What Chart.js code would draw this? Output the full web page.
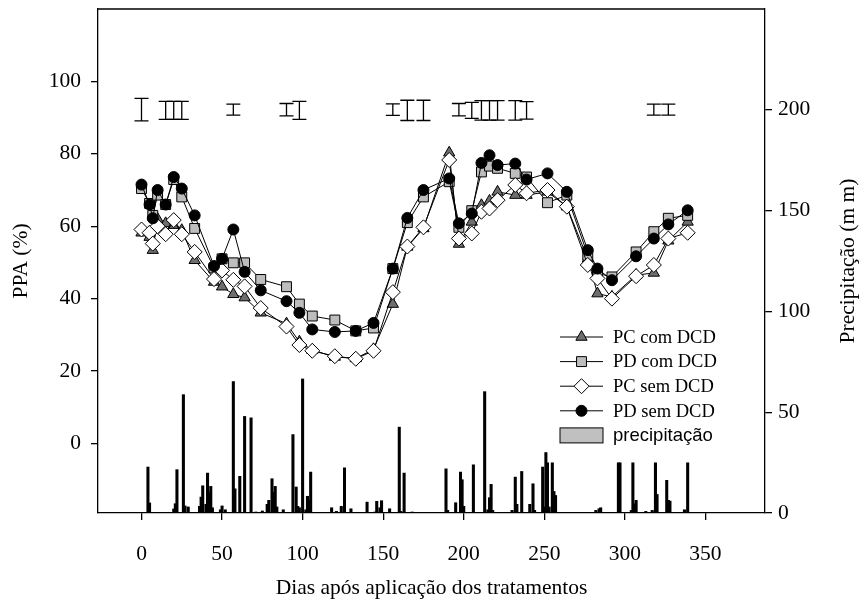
<!DOCTYPE html>
<html>
<head>
<meta charset="utf-8">
<script src="https://cdn.jsdelivr.net/npm/chart.js@4.4.0/dist/chart.umd.min.js"></script>
<style>
  html, body { margin: 0; padding: 0; background: #fff; }
</style>
</head>
<body>
<canvas id="grafico-ppa" width="861" height="600"></canvas>
<script>
// Dias de coleta (após aplicação dos tratamentos)
const diasAmostra = [0, 5, 7, 10, 15, 20, 25, 33, 45, 50, 57, 64, 74, 90, 98, 106, 120, 133, 144,
  156, 165, 175, 191, 197, 205, 211, 216, 221, 232, 239, 252, 264, 277, 283, 292, 307, 318, 327, 339];

// PPA (%) por tratamento
const pcComDCD = [58.2, 57, 53.4, 62, 60.8, 60.3, 58.9, 50.6, 44.6, 43.3, 41.2, 40.3, 36.1, 33.1, 28.1, 25.8, 23.9, 23.5, 26,
  38.5, 54.3, 59.4, 80.3, 55.1, 61.2, 65.8, 67, 69.5, 68.6, 68.6, 69.5, 65.4, 51, 41.4, 40.5, 46.5, 47.1, 56, 61.2];
const pdComDCD = [70.4, 66.3, 63, 68.6, 66, 72.9, 68.1, 59.4, 48.5, 51, 49.9, 49.9, 45.3, 43.3, 38.5, 35.2, 34.1, 31.1, 31.9,
  48.3, 61, 68.1, 72.3, 59.7, 64.3, 75, 76.6, 76, 74.6, 73.6, 66.5, 68.6, 52, 47, 46, 52.9, 58.5, 62.2, 63];
const pcSemDCD = [59.1, 58.2, 55.2, 60, 57.8, 61.7, 57.8, 52.9, 45.4, 47.8, 45.2, 43.4, 37.4, 32.3, 27.2, 25.6, 24.1, 23.4, 25.6,
  41.8, 54.4, 59.7, 78.3, 56.6, 58, 64, 64.9, 67.2, 71.4, 69.1, 70, 65.4, 49.3, 45.6, 40, 46.2, 49.3, 56.6, 58.2];
const pdSemDCD = [71.5, 66, 62.2, 70, 66, 73.6, 70.4, 63, 49, 51, 59.1, 47.4, 42.3, 39.3, 36.1, 31.5, 30.8, 31.1, 33.3,
  48.3, 62.3, 70, 73.2, 60.8, 63.5, 77.5, 79.6, 76.9, 77.3, 72.9, 74.6, 69.5, 53.4, 48.3, 45.1, 51.7, 56.6, 60.5, 64.4];

// Precipitação diária (mm)
const diasChuva = [4, 5, 20, 21, 22, 26, 27, 29, 36, 37, 38, 40, 41, 42, 43, 44, 49, 50, 52, 57, 58, 61, 64, 68, 71, 75,
  78, 79, 81, 82, 83, 84, 88, 94, 96, 97, 98, 100, 102, 103, 104, 105, 118, 121, 124, 126, 130, 140, 145, 146, 148, 149,
  154, 160, 161, 163, 168, 189, 190, 195, 198, 199, 200, 206, 213, 215, 216, 217, 218, 230, 232, 233, 236, 241, 243, 244,
  249, 250, 251, 252, 253, 255, 256, 257, 282, 284, 285, 296, 297, 304, 305, 306, 307, 313, 317, 319, 320, 326, 327, 328,
  337, 339];
const chuvaMm = [22.8, 5, 2, 4.6, 21.5, 58.7, 3.5, 3, 3.3, 7.9, 13.5, 4.3, 19.8, 10.4, 13.2, 2.6, 1.6, 3.5, 1.6, 65.2, 12, 18.2, 47.9, 47.2, 0.5, 1,
  4.3, 6.3, 17, 10.4, 13.2, 3, 1.6, 38.9, 12.9, 3.3, 2.6, 66.5, 1.6, 8.3, 6.3, 20.3, 2.6, 0.8, 3.3, 22.4, 2.1, 5.4, 0.5, 5.8, 2.6, 6.1,
  2.1, 42.6, 0.8, 19.8, 0.5, 21.9, 1.3, 5.1, 20.3, 16.5, 3.3, 23.9, 60.2, 1.6, 7.6, 14.2, 1.3, 1.3, 17.8, 4.3, 20.6, 4.3, 14.5, 1.3,
  22.8, 3, 30, 24.9, 3, 24.9, 10.7, 8.7, 1.3, 2.1, 2.6, 24.9, 24.9, 1.3, 24.9, 4.6, 6.3, 0.8, 1.3, 24.9, 9.2, 16.2, 6.3, 5.9,
  1.6, 24.9];

// Barras de DMS (centro e meia amplitude, em PPA %)
const diasDMS = [0, 15, 20, 25, 57, 90, 98, 156, 165, 175, 197, 205, 211, 216, 221, 232, 239, 318, 327];
const centroDMS = [92.2, 92, 92, 92, 92.2, 92.2, 92, 92.2, 92, 92, 92.2, 92, 92, 92, 92, 92, 92, 92.2, 92.2];
const meiaDMS = [3.1, 2.5, 2.5, 2.5, 1.5, 1.7, 2.5, 1.6, 2.8, 2.8, 1.7, 2.2, 2.7, 2.7, 2.7, 2.7, 2.4, 1.5, 1.5];

const ticksDias = [0, 50, 100, 150, 200, 250, 300, 350];
const ticksPPA = [0, 20, 40, 60, 80, 100];
const ticksChuva = [0, 50, 100, 150, 200];

const SERIF = '"Liberation Serif", "Times New Roman", serif';
const fonteTick = { family: SERIF, size: 21.5 };
const fonteTitulo = { family: SERIF, size: 21.5 };

const pontos = ys => diasAmostra.map((d, i) => ({ x: d, y: ys[i] }));

function serie(label, ys, estilo, raio, cor, ordem) {
  return {
    type: 'line', label, data: pontos(ys), yAxisID: 'y', order: ordem,
    borderColor: '#000', borderWidth: 1, tension: 0, fill: false,
    pointStyle: estilo, pointRadius: raio, pointHoverRadius: raio,
    pointBackgroundColor: cor, pointBorderColor: '#000', pointBorderWidth: 1
  };
}

// barras de DMS desenhadas por cima das séries
const pluginDMS = {
  id: 'dms',
  afterDatasetsDraw(chart) {
    const { ctx, scales: { x, y } } = chart;
    ctx.save();
    ctx.strokeStyle = '#000';
    ctx.lineWidth = 1.3;
    diasDMS.forEach((d, i) => {
      const px = x.getPixelForValue(d);
      const yTopo = y.getPixelForValue(centroDMS[i] + meiaDMS[i]);
      const yBase = y.getPixelForValue(centroDMS[i] - meiaDMS[i]);
      ctx.beginPath();
      ctx.moveTo(px, yTopo); ctx.lineTo(px, yBase);
      ctx.moveTo(px - 7, yTopo); ctx.lineTo(px + 7, yTopo);
      ctx.moveTo(px - 7, yBase); ctx.lineTo(px + 7, yBase);
      ctx.stroke();
    });
    ctx.restore();
  }
};

// moldura superior, título do eixo direito e legenda interna
const pluginMoldura = {
  id: 'moldura',
  afterDraw(chart) {
    const { ctx, chartArea: a } = chart;
    ctx.save();
    ctx.strokeStyle = '#000';
    ctx.lineWidth = 1.3;
    ctx.beginPath();
    ctx.moveTo(a.left, a.top); ctx.lineTo(a.right, a.top);
    ctx.stroke();

    ctx.fillStyle = '#000';
    ctx.font = '21.5px ' + SERIF;
    ctx.textAlign = 'center';
    ctx.textBaseline = 'middle';
    ctx.translate(848, (a.top + a.bottom) / 2);
    ctx.rotate(-Math.PI / 2);
    ctx.fillText('Precipitação (m m)', 0, 0);
    ctx.restore();

    // legenda
    const x0 = a.right - 205, x1 = a.right - 162, xt = a.right - 152;
    let yl = a.bottom - 176;
    ctx.save();
    ctx.textAlign = 'left';
    ctx.textBaseline = 'middle';
    chart.data.datasets.slice(0, 4).forEach(ds => {
      ctx.strokeStyle = '#000';
      ctx.lineWidth = 1;
      ctx.beginPath();
      ctx.moveTo(x0, yl); ctx.lineTo(x1, yl);
      ctx.stroke();
      ctx.fillStyle = ds.pointBackgroundColor;
      Chart.helpers.drawPoint(ctx, { pointStyle: ds.pointStyle, radius: ds.pointRadius, rotation: 0, borderWidth: 1 }, (x0 + x1) / 2, yl);
      ctx.fillStyle = '#000';
      ctx.font = '18.5px ' + SERIF;
      ctx.fillText(ds.label, xt, yl + 1);
      yl += 24.6;
    });
    ctx.fillStyle = '#c0c0c0';
    ctx.fillRect(x0, yl - 7.5, x1 - x0, 15);
    ctx.strokeRect(x0, yl - 7.5, x1 - x0, 15);
    ctx.fillStyle = '#000';
    ctx.font = '18.5px "Liberation Sans", Arial, sans-serif';
    ctx.fillText('precipitação', xt, yl + 1);
    ctx.restore();
  }
};

const semPadding = s => { s.paddingTop = 0; s.paddingBottom = 0; s.paddingLeft = 0; s.paddingRight = 0; };

const eixoComum = {
  grid: { drawOnChartArea: false, drawTicks: true, tickLength: 7, color: '#000', lineWidth: 1.3, offset: false },
  border: { display: true, color: '#000', width: 1.3 }
};

new Chart(document.getElementById('grafico-ppa'), {
  type: 'line',
  data: {
    datasets: [
      serie('PC com DCD', pcComDCD, 'triangle', 6.5, '#6e6e6e', 4),
      serie('PD com DCD', pdComDCD, 'rect', 7, '#bdbdbd', 3),
      serie('PC sem DCD', pcSemDCD, 'rectRot', 7.5, '#ffffff', 2),
      serie('PD sem DCD', pdSemDCD, 'circle', 5.5, '#000000', 1),
      {
        type: 'bar', label: 'precipitação', yAxisID: 'y1', order: 5,
        data: diasChuva.map((d, i) => ({ x: d, y: chuvaMm[i] })),
        backgroundColor: '#000', borderWidth: 0, barThickness: 2.4
      }
    ]
  },
  options: {
    responsive: false,
    animation: false,
    layout: { padding: { top: 9, left: 0, right: 0, bottom: 0 } },
    plugins: { legend: { display: false }, tooltip: { enabled: false } },
    scales: {
      x: {
        ...eixoComum,
        type: 'linear', position: 'bottom', min: -27, max: 387, offset: false,
        afterBuildTicks: s => { s.ticks = ticksDias.map(v => ({ value: v })); },
        afterFit: s => { s.height = 87; semPadding(s); },
        ticks: { color: '#000', font: fonteTick, padding: 21, maxRotation: 0 },
        title: { display: true, text: 'Dias após aplicação dos tratamentos', color: '#000', font: { ...fonteTitulo, lineHeight: 1 }, padding: { top: 0, bottom: 1 } }
      },
      y: {
        ...eixoComum,
        type: 'linear', position: 'left', min: -19.2, max: 120,
        afterBuildTicks: s => { s.ticks = ticksPPA.map(v => ({ value: v })); },
        afterFit: s => { s.width = 98; semPadding(s); },
        ticks: { color: '#000', font: fonteTick, padding: 10 },
        title: { display: true, text: 'PPA (%)', color: '#000', font: fonteTitulo, padding: { top: 8, bottom: 0 } }
      },
      y1: {
        ...eixoComum,
        type: 'linear', position: 'right', min: 0, max: 250,
        afterBuildTicks: s => { s.ticks = ticksChuva.map(v => ({ value: v })); },
        afterFit: s => { s.width = 96; semPadding(s); },
        ticks: { color: '#000', font: fonteTick, padding: 6 }
      }
    }
  },
  plugins: [pluginDMS, pluginMoldura]
});
</script>
</body>
</html>
